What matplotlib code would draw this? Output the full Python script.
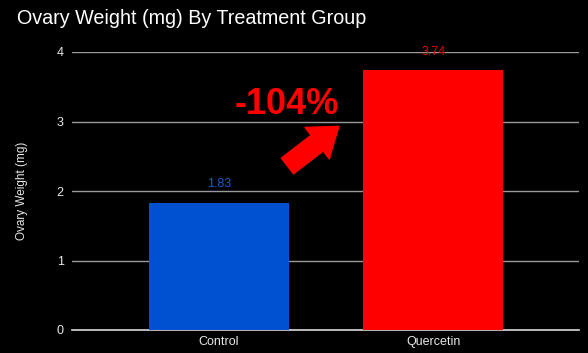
"""Ovary weight by treatment group - bar chart on black background."""
import matplotlib
matplotlib.use("Agg")
import matplotlib.pyplot as plt

plt.rcParams["font.family"] = ["Liberation Sans", "DejaVu Sans"]

groups = ["Control", "Quercetin"]
weights = [1.83, 3.74]
bar_colors = ["#0050d2", "#ff0000"]
label_colors = ["#1a5ad8", "#e60000"]
yticks = [0, 1, 2, 3, 4]
change_text = "-104%"

fig = plt.figure(figsize=(5.88, 3.53), dpi=100, facecolor="black")
ax = fig.add_axes([72 / 588, 23 / 353, 507 / 588, 278 / 353], facecolor="black")

x = range(len(groups))
bars = ax.bar(x, weights, width=0.653, color=bar_colors, zorder=3)

for b, v, c in zip(bars, weights, label_colors):
    ax.annotate(f"{v:.2f}", (b.get_x() + b.get_width() / 2, v),
                xytext=(0, 9), textcoords="offset points",
                ha="center", va="bottom", fontsize=9, color=c, zorder=4)

ax.set_xlim(-0.685, 1.68)
ax.set_ylim(0, 4)
ax.set_yticks(yticks)
ax.set_xticks(list(x))
ax.set_xticklabels(groups)
ax.tick_params(axis="both", length=0, colors="#e8e8e8", labelsize=9)
ax.tick_params(axis="y", pad=6)
ax.tick_params(axis="x", pad=4)
ax.grid(axis="y", color="#9a9a9a", linewidth=1, zorder=0)
for s in ["left", "right", "top"]:
    ax.spines[s].set_visible(False)
ax.spines["bottom"].set_color("#d8d8d8")
ax.spines["bottom"].set_linewidth(1.2)

# annotation: percent change with arrow
ax.text(0.317, 3.24, change_text, ha="center", va="center", fontsize=26,
        fontweight="bold", color="#ff0000", zorder=5)
ax.annotate("", xy=(0.56, 2.93), xytext=(0.32, 2.36),
            arrowprops=dict(arrowstyle="simple,head_length=0.9,head_width=1.3,tail_width=0.65",
                            color="#ff0000", mutation_scale=22, shrinkA=0, shrinkB=0),
            zorder=5)

fig.text(17 / 588, 1 - 18 / 353, "Ovary Weight (mg) By Treatment Group",
         ha="left", va="center", fontsize=14.2, color="white")
fig.text(22 / 588, 1 - 191 / 353, "Ovary Weight (mg)", rotation=90,
         ha="center", va="center", fontsize=8.5, color="#e8e8e8")

fig.savefig("out.png", dpi=100, facecolor="black")
